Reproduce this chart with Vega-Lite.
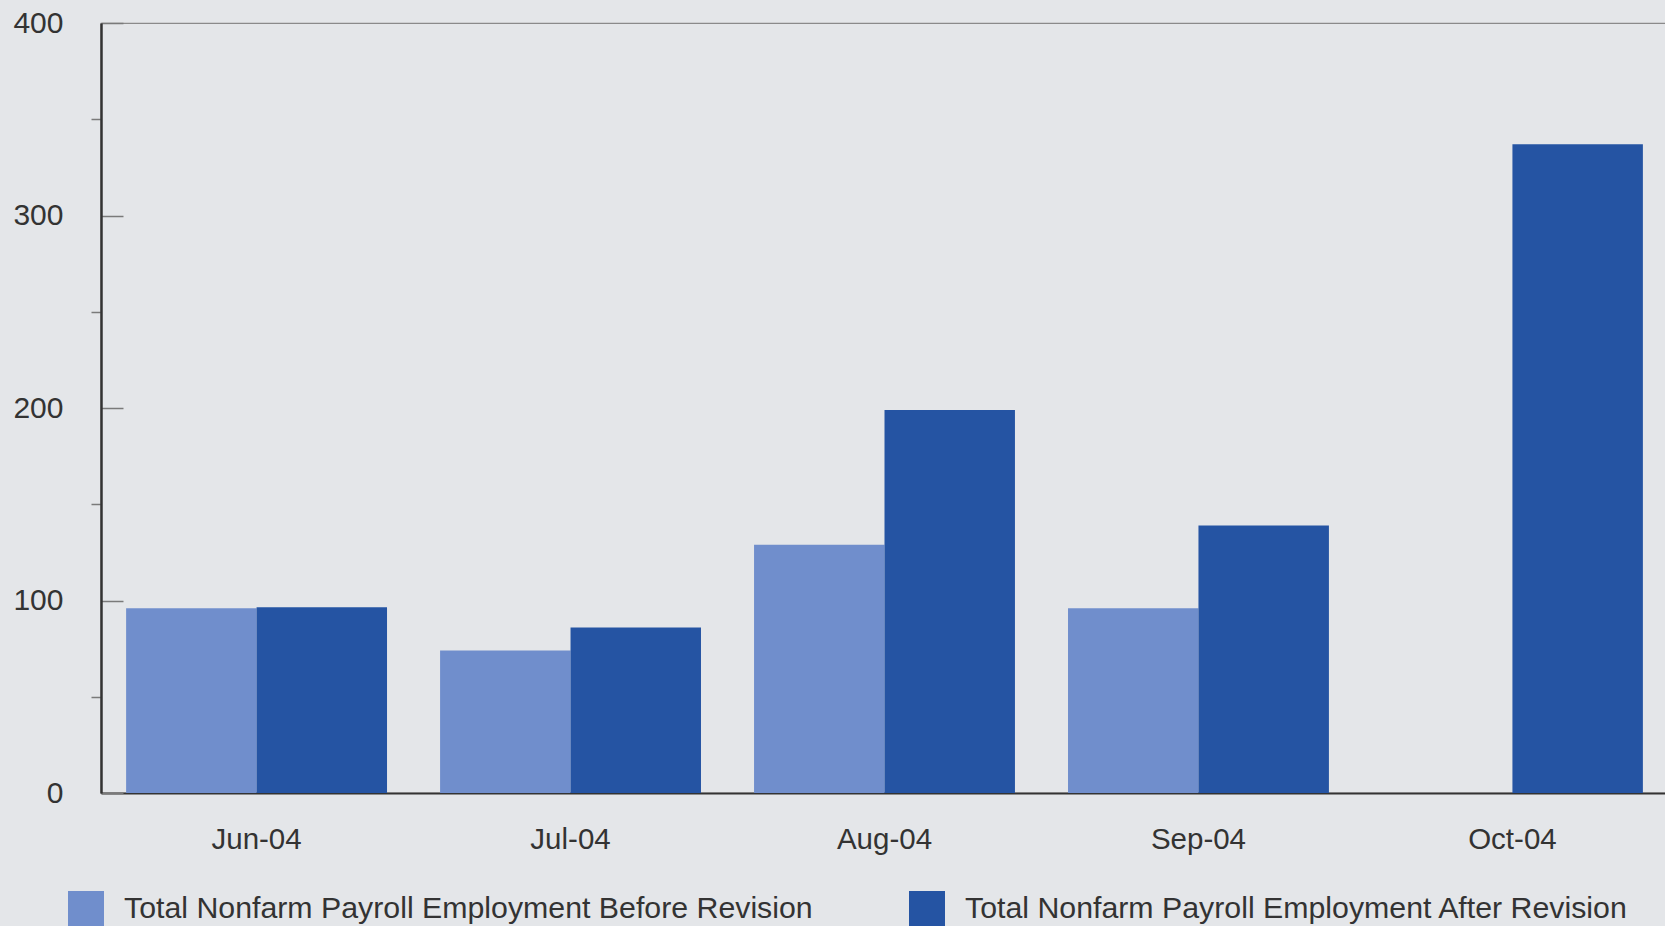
{
  "$schema": "https://vega.github.io/schema/vega-lite/v6.json",
  "width": 1567,
  "height": 770,
  "autosize": {"type": "none"},
  "padding": {"left": 101, "top": 23, "right": 0, "bottom": 133},
  "background": "#e4e6e9",
  "config": {
    "view": {"stroke": "#8a8a8a", "strokeWidth": 1.2},
    "font": "Liberation Sans"
  },
  "data": {
    "values": [
      {"month": "Jun-04", "series": "Total Nonfarm Payroll Employment Before Revision", "value": 96},
      {"month": "Jun-04", "series": "Total Nonfarm Payroll Employment After Revision", "value": 96.5},
      {"month": "Jul-04", "series": "Total Nonfarm Payroll Employment Before Revision", "value": 74},
      {"month": "Jul-04", "series": "Total Nonfarm Payroll Employment After Revision", "value": 86},
      {"month": "Aug-04", "series": "Total Nonfarm Payroll Employment Before Revision", "value": 129},
      {"month": "Aug-04", "series": "Total Nonfarm Payroll Employment After Revision", "value": 199},
      {"month": "Sep-04", "series": "Total Nonfarm Payroll Employment Before Revision", "value": 96},
      {"month": "Sep-04", "series": "Total Nonfarm Payroll Employment After Revision", "value": 139},
      {"month": "Oct-04", "series": "Total Nonfarm Payroll Employment After Revision", "value": 337}
    ]
  },
  "mark": {"type": "bar"},
  "encoding": {
    "x": {
      "field": "month",
      "type": "nominal",
      "sort": null,
      "scale": {"paddingInner": 0.169, "paddingOuter": 0.08},
      "axis": {
        "title": null,
        "labelAngle": 0,
        "ticks": false,
        "labelFontSize": 29.5,
        "labelColor": "#333333",
        "labelPadding": 32,
        "domainColor": "#333333",
        "domainWidth": 2
      }
    },
    "xOffset": {
      "field": "series",
      "type": "nominal",
      "scale": {
        "domain": ["Total Nonfarm Payroll Employment Before Revision", "Total Nonfarm Payroll Employment After Revision"],
        "paddingInner": 0,
        "paddingOuter": 0
      }
    },
    "y": {
      "field": "value",
      "type": "quantitative",
      "scale": {"domain": [0, 400], "nice": false},
      "axis": {
        "title": null,
        "grid": false,
        "values": [0, 50, 100, 150, 200, 250, 300, 350, 400],
        "labelExpr": "datum.value % 100 === 0 ? datum.label : ''",
        "tickSize": {"condition": {"test": "datum.value % 100 === 0", "value": -22}, "value": 10},
        "tickColor": "#7a7a7a",
        "tickWidth": 1.5,
        "labelFontSize": 30,
        "labelColor": "#333333",
        "labelPadding": 60,
        "domainColor": "#333333",
        "domainWidth": 2.5
      }
    },
    "color": {
      "field": "series",
      "type": "nominal",
      "scale": {
        "domain": ["Total Nonfarm Payroll Employment Before Revision", "Total Nonfarm Payroll Employment After Revision"],
        "range": ["#708ecc", "#2554a3"]
      },
      "legend": {
        "title": null,
        "orient": "none",
        "legendX": -33,
        "legendY": 868,
        "direction": "horizontal",
        "columns": 2,
        "columnPadding": 96,
        "symbolType": "square",
        "symbolSize": 1296,
        "symbolStrokeWidth": 0,
        "symbolOpacity": 1,
        "labelFontSize": 30.3,
        "labelColor": "#333333",
        "labelOffset": 20,
        "labelLimit": 1000
      }
    }
  }
}
